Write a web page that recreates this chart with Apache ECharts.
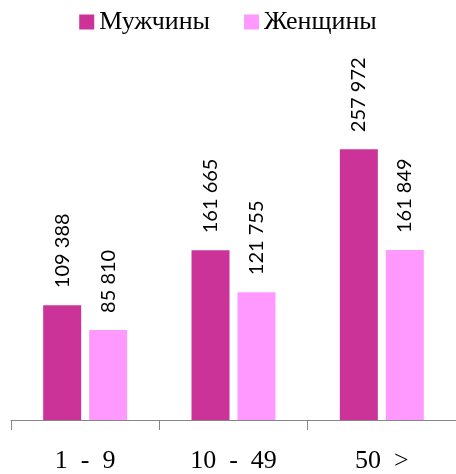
<!DOCTYPE html>
<html>
<head>
<meta charset="utf-8">
<script src="https://cdn.jsdelivr.net/npm/echarts@6/dist/echarts.min.js"></script>
<style>
  html, body { margin: 0; padding: 0; background: #fff; }
  #chart { width: 456px; height: 474px; }
</style>
</head>
<body>
<div id="chart"></div>
<script>
const categories = ['1  -  9', '10  -  49', '50  >'];
const menValues = [109388, 161665, 257972];
const womenValues = [85810, 121755, 161849];

const chart = echarts.init(document.getElementById('chart'));

// thousands separated by a space, as in the source
const fmt = (p) => String(p.value).replace(/\B(?=(\d{3})+(?!\d))/g, ' ');

const labelStyle = {
  show: true,
  position: 'top',
  rotate: 90,
  align: 'left',
  verticalAlign: 'middle',
  distance: 17,
  fontFamily: 'Lato',
  fontSize: 20,
  color: '#000',
  formatter: fmt,
};

const option = {
  animation: false,
  legend: {
    top: 4,
    left: 'center',
    itemWidth: 15,
    itemHeight: 15,
    itemGap: 34,
    icon: 'rect',
    textStyle: { fontFamily: 'Liberation Serif', fontSize: 26, color: '#000' },
  },
  grid: { left: 11, width: 449, top: 105, bottom: 54 },
  xAxis: {
    type: 'category',
    data: categories,
    axisLine: { show: true, lineStyle: { color: '#868686', width: 1 } },
    axisTick: { show: true, length: 10, lineStyle: { color: '#868686' } },
    axisLabel: {
      fontFamily: 'Liberation Serif',
      fontSize: 26,
      color: '#000',
      margin: 28,
    },
  },
  yAxis: {
    type: 'value',
    min: 0,
    max: 300000,
    show: false,
    splitLine: { show: false },
  },
  series: [
    {
      name: 'Мужчины',
      type: 'bar',
      data: menValues,
      barWidth: 38,
      barGap: '21%',
      itemStyle: { color: '#CC3399' },
      label: labelStyle,
    },
    {
      name: 'Женщины',
      type: 'bar',
      data: womenValues,
      barWidth: 38,
      itemStyle: { color: '#FF99FF' },
      label: labelStyle,
    },
  ],
};

chart.setOption(option);
</script>
</body>
</html>
